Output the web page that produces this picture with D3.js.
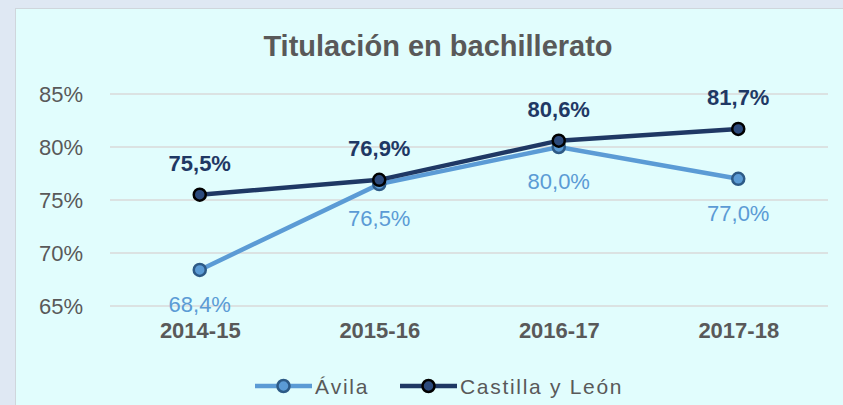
<!DOCTYPE html>
<html lang="es">
<head>
<meta charset="UTF-8">
<title>Titulación en bachillerato</title>
<style>
  body { margin: 0; background: #dfe8f3; font-family: "Liberation Sans", Arial, sans-serif; }
</style>
</head>
<body>
<div id="chart"></div>
<script src="https://d3js.org/d3.v7.min.js"></script>
<script>
const categories = ["2014-15", "2015-16", "2016-17", "2017-18"];
const avila = [68.4, 76.5, 80.0, 77.0];
const castilla = [75.5, 76.9, 80.6, 81.7];
const yTicks = [65, 70, 75, 80, 85];

const W = 843, H = 405;
const margin = { top: 94, right: 15, bottom: 99, left: 110 };
const width = W - margin.left - margin.right;
const height = H - margin.top - margin.bottom;

const svg = d3.select("#chart").append("svg")
  .attr("width", W).attr("height", H);

svg.append("rect")
  .attr("x", 15.5).attr("y", 8.5)
  .attr("width", W).attr("height", H)
  .attr("fill", "#e1fdfd").attr("stroke", "#cfd6dc");

svg.append("text")
  .attr("x", 438).attr("y", 56)
  .attr("text-anchor", "middle")
  .style("font-size", "29px").style("font-weight", "bold")
  .attr("fill", "#595959")
  .text("Titulación en bachillerato");

const g = svg.append("g").attr("transform", `translate(${margin.left},${margin.top})`);

const x = d3.scalePoint().domain(categories).range([0, width]).padding(0.5);
const y = d3.scaleLinear().domain([65, 85]).range([height, 0]);

g.selectAll(".grid").data(yTicks).join("line")
  .attr("x1", 0).attr("x2", width)
  .attr("y1", d => y(d)).attr("y2", d => y(d))
  .attr("stroke", "#d9d9d9").attr("stroke-width", 1.5);

const yAxis = g.append("g").call(d3.axisLeft(y).tickValues(yTicks).tickSize(0).tickPadding(27).tickFormat(d => d + "%"));
yAxis.select(".domain").remove();
yAxis.selectAll("text").style("font-size", "22px").attr("fill", "#595959")
  .style("font-family", "Liberation Sans, Arial, sans-serif");

const xAxis = g.append("g").attr("transform", `translate(0,${height})`)
  .call(d3.axisBottom(x).tickSize(0).tickPadding(16));
xAxis.select(".domain").remove();
xAxis.selectAll("text").style("font-size", "22px").style("font-weight", "bold").attr("fill", "#595959")
  .style("font-family", "Liberation Sans, Arial, sans-serif");

const fmt = v => v.toFixed(1).replace(".", ",") + "%";
const line = d3.line().x((d, i) => x(categories[i])).y(d => y(d));

const series = [
  { name: "Ávila", values: avila, line: "#5b9bd5", fill: "#5b9bd5", stroke: "#2d5a86", label: "#5b9bd5", weight: "normal", dy: 42 },
  { name: "Castilla y León", values: castilla, line: "#1f3864", fill: "#2c4a7c", stroke: "#000000", label: "#1f3864", weight: "bold", dy: -24 }
];

series.forEach(s => {
  g.append("path").datum(s.values)
    .attr("d", line).attr("fill", "none")
    .attr("stroke", s.line).attr("stroke-width", 4.5);
  g.selectAll(null).data(s.values).join("circle")
    .attr("cx", (d, i) => x(categories[i])).attr("cy", d => y(d))
    .attr("r", 6).attr("fill", s.fill).attr("stroke", s.stroke).attr("stroke-width", 2.5);
  g.selectAll(null).data(s.values).join("text")
    .attr("x", (d, i) => x(categories[i])).attr("y", d => y(d) + s.dy)
    .attr("text-anchor", "middle")
    .style("font-size", "22px").style("font-weight", s.weight)
    .attr("fill", s.label)
    .text(fmt);
});

// legend
const legendItems = [
  { s: series[0], x0: 255 },
  { s: series[1], x0: 400 }
];
legendItems.forEach(({ s, x0 }) => {
  const lg = svg.append("g").attr("transform", `translate(${x0},386)`);
  lg.append("line").attr("x1", 0).attr("x2", 57).attr("y1", 0).attr("y2", 0)
    .attr("stroke", s.line).attr("stroke-width", 4.5);
  lg.append("circle").attr("cx", 28.5).attr("cy", 0).attr("r", 6)
    .attr("fill", s.fill).attr("stroke", s.stroke).attr("stroke-width", 2.5);
  lg.append("text").attr("x", 60).attr("y", 8)
    .style("font-size", "21px").style("letter-spacing", "1.7px")
    .attr("fill", "#595959").text(s.name);
});
</script>
</body>
</html>
